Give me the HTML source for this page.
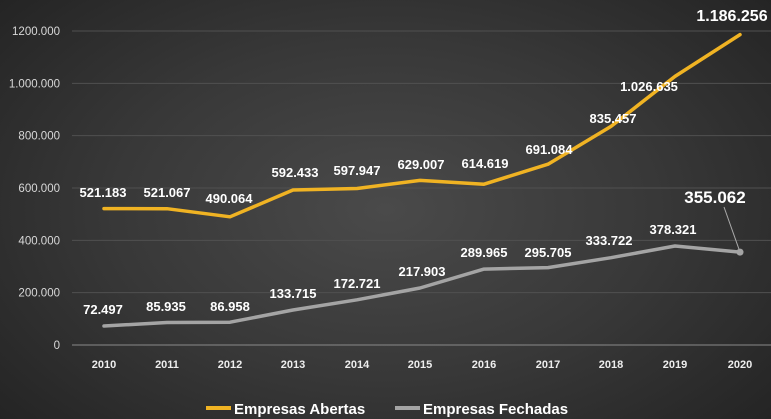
<!DOCTYPE html>
<html><head><meta charset="utf-8"><style>
html,body{margin:0;padding:0;width:771px;height:419px;overflow:hidden}
body{background:radial-gradient(ellipse 70% 80% at 50% 50%,#4a4a4a 0%,#383838 50%,#222 100%);font-family:"Liberation Sans",sans-serif}
svg{display:block}
</style></head><body>
<svg id="s" width="771" height="419" xmlns="http://www.w3.org/2000/svg" font-family="Liberation Sans, sans-serif"></svg>
<script>
var s=document.getElementById('s'),h='';
function Y(v){return 345-v/1200000*314;}
var xs=[104,167,230,293,357,420,484,548,611,675,740];
var ticks=['0','200.000','400.000','600.000','800.000','1.000.000','1200.000'];
for(var i=0;i<7;i++){var y=Y(i*200000);
h+='<line x1="72" x2="771" y1="'+y+'" y2="'+y+'" stroke="'+(i==0?'#8a8a8a':'#505050')+'" stroke-width="1"/>';
h+='<text x="60" y="'+(y+4)+'" fill="#d8d8d8" font-size="11.5" text-anchor="end">'+ticks[i]+'</text>';}
for(var i=0;i<11;i++)h+='<text x="'+xs[i]+'" y="368" fill="#eee" font-size="11" font-weight="bold" text-anchor="middle">'+(2010+i)+'</text>';
var A=[521183,521067,490064,592433,597947,629007,614619,691084,835457,1026635,1186256];
var F=[72497,85935,86958,133715,172721,217903,289965,295705,333722,378321,355062];
function pl(d,c){var p=d.map(function(v,i){return xs[i]+','+Y(v).toFixed(1)}).join(' ');
return '<polyline points="'+p+'" fill="none" stroke="'+c+'" stroke-width="3.5" stroke-linejoin="round" stroke-linecap="round"/>';}
h+=pl(F,'#a4a4a4')+pl(A,'#f0b323');
h+='<line x1="724" y1="207" x2="740" y2="'+Y(355062)+'" stroke="#aaa" stroke-width="1"/><circle cx="740" cy="'+Y(355062)+'" r="3.5" fill="#a4a4a4"/>';
var LA=[[103,197,'521.183'],[167,197,'521.067'],[229,203,'490.064'],[295,177,'592.433'],[357,175,'597.947'],[421,169,'629.007'],[485,168,'614.619'],[549,154,'691.084'],[613,123,'835.457'],[649,91,'1.026.635']];
var LF=[[103,314,'72.497'],[166,311,'85.935'],[230,311,'86.958'],[293,298,'133.715'],[357,288,'172.721'],[422,276,'217.903'],[484,257,'289.965'],[548,257,'295.705'],[609,245,'333.722'],[673,234,'378.321']];
LA.concat(LF).forEach(function(l){h+='<text x="'+l[0]+'" y="'+l[1]+'" fill="#fff" font-size="13" font-weight="bold" text-anchor="middle">'+l[2]+'</text>';});
h+='<text x="732" y="21" fill="#fff" font-size="16" font-weight="bold" text-anchor="middle">1.186.256</text>';
h+='<text x="715" y="203" fill="#fff" font-size="17" font-weight="bold" text-anchor="middle">355.062</text>';
h+='<line x1="206" x2="231" y1="408" y2="408" stroke="#f0b323" stroke-width="4"/><text x="234" y="414" fill="#fff" font-size="15" font-weight="bold">Empresas Abertas</text>';
h+='<line x1="395" x2="420" y1="408" y2="408" stroke="#a4a4a4" stroke-width="4"/><text x="423" y="414" fill="#fff" font-size="15" font-weight="bold">Empresas Fechadas</text>';
s.innerHTML=h;
</script>
</body></html>
